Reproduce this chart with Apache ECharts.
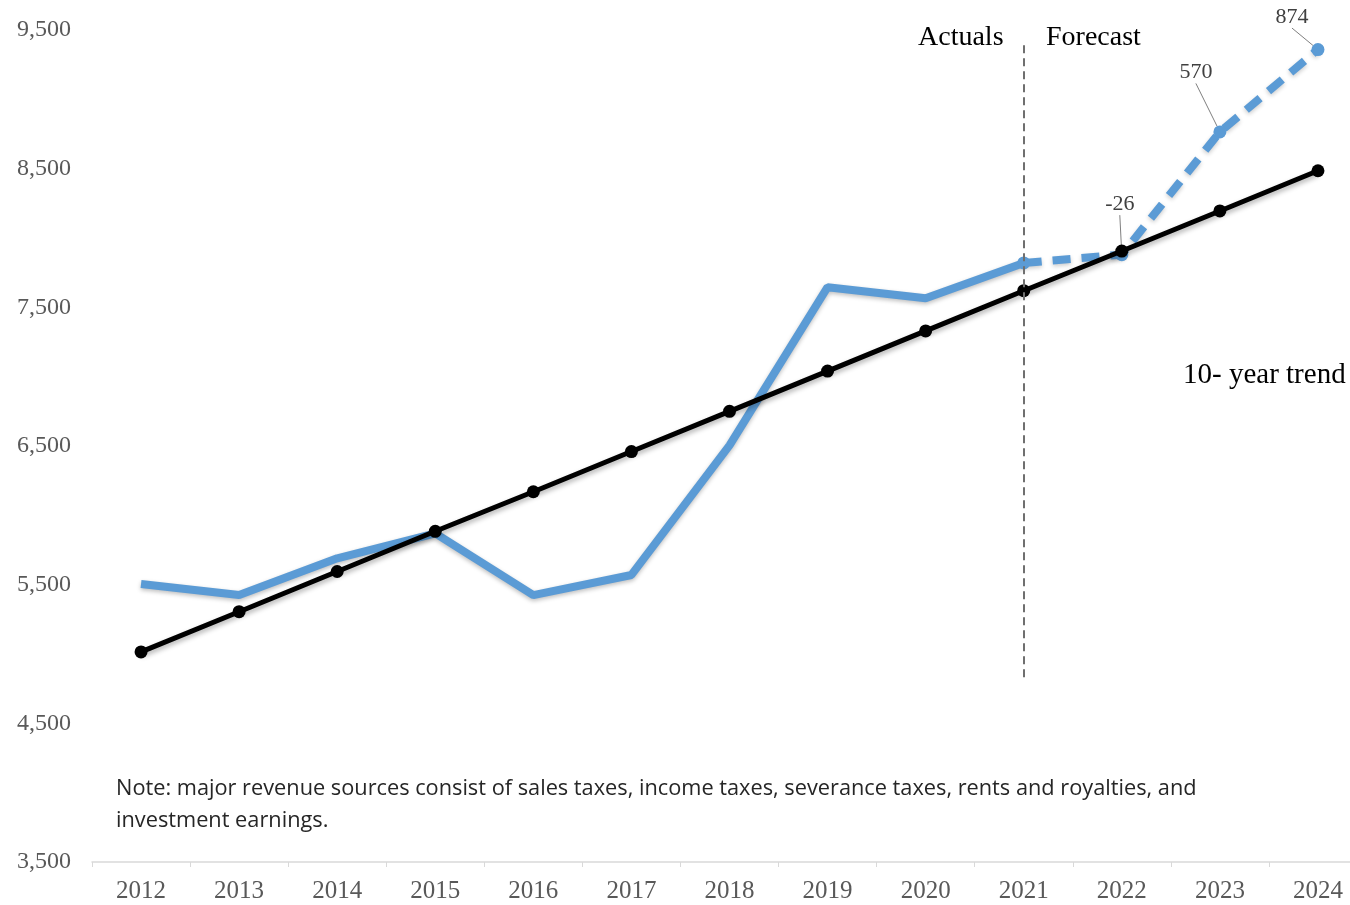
<!DOCTYPE html>
<html>
<head>
<meta charset="utf-8">
<title>Major revenue sources: actuals, forecast and 10-year trend</title>
<script src="https://cdn.jsdelivr.net/npm/echarts@6/dist/echarts.min.js"></script>
<style>
  html, body { margin: 0; padding: 0; background: #ffffff; overflow: hidden; }
  /* canvas is a little wider than the page so the last year band runs off the right edge */
  #chart { width: 1367px; height: 905px; }
</style>
</head>
<body>
<div id="chart"></div>
<script>
// Fiscal years on the category axis
const years = ['2012','2013','2014','2015','2016','2017','2018','2019','2020','2021','2022','2023','2024'];

// Recorded revenue, 2012-2021 (millions)
const actuals = [5505, 5425, 5690, 5870, 5425, 5570, 6505, 7645, 7565, 7820, null, null, null];

// Forecast revenue, starting from the last actual year
const forecast = [null, null, null, null, null, null, null, null, null, 7820, 7880, 8765, 9359];

// 10-year linear trend
const trend = [5015, 5305, 5595, 5885, 6170, 6460, 6750, 7040, 7330, 7620, 7906, 8195, 8485];

// Forecast minus trend, labelled on the forecast points
const forecastGap = [null, null, null, null, null, null, null, null, null, null, -26, 570, 874];

// Value axis ticks
const yMin = 3500, yMax = 9500, yStep = 1000;

const noteLine1 = 'Note: major revenue sources consist of sales taxes, income taxes, severance taxes, rents and royalties, and';
const noteLine2 = 'investment earnings.';

const BLUE = '#5B9BD5';
const SERIF = '"Liberation Serif", "DejaVu Serif", serif';
const SANS = '"Open Sans", "Noto Sans", sans-serif';

// offsets of the gap labels from their default spot above the point (dx, dy)
const gapLabelShift = { 10: [-2, -33], 11: [-24, -42], 12: [-26, -15] };

const chart = echarts.init(document.getElementById('chart'));

chart.setOption({
  animation: false,
  backgroundColor: '#ffffff',
  grid: { left: 92, top: 30, right: 0, bottom: 43, containLabel: false },
  xAxis: {
    type: 'category',
    data: years,
    boundaryGap: true,
    axisLine: { show: true, lineStyle: { color: '#d9d9d9', width: 1.5 } },
    axisTick: { show: true, length: 5, lineStyle: { color: '#d9d9d9' } },
    axisLabel: { color: '#595959', fontFamily: SERIF, fontSize: 25, margin: 17 },
    splitLine: { show: false }
  },
  yAxis: {
    type: 'value',
    min: yMin,
    max: yMax,
    interval: yStep,
    axisLine: { show: false },
    axisTick: { show: false },
    splitLine: { show: false },
    axisLabel: {
      color: '#595959',
      fontFamily: SERIF,
      fontSize: 24,
      margin: 21,
      formatter: v => v.toLocaleString('en-US')
    }
  },
  series: [
    {
      name: 'Actuals',
      type: 'line',
      data: actuals,
      showSymbol: false,
      symbol: 'none',
      z: 2,
      lineStyle: {
        color: BLUE, width: 8,
        shadowColor: 'rgba(0,0,0,0.25)', shadowBlur: 4, shadowOffsetY: 2
      }
    },
    {
      name: 'Forecast',
      type: 'line',
      data: forecast,
      symbol: 'circle',
      symbolSize: 13,
      showSymbol: true,
      z: 2,
      itemStyle: { color: BLUE },
      lineStyle: {
        color: BLUE, width: 8, type: [18, 11],
        shadowColor: 'rgba(0,0,0,0.2)', shadowBlur: 4, shadowOffsetY: 2
      },
      label: {
        show: true,
        position: 'top',
        distance: 0,
        color: '#404040',
        fontFamily: SERIF,
        fontSize: 22,
        formatter: p => (forecastGap[p.dataIndex] == null ? '' : String(forecastGap[p.dataIndex]))
      },
      labelLayout: function (p) {
        const s = gapLabelShift[p.dataIndex];
        return s ? { dx: s[0], dy: s[1] } : {};
      },
      labelLine: { show: true, lineStyle: { color: '#7f7f7f', width: 1 } }
    },
    {
      name: '10- year trend',
      type: 'line',
      data: trend,
      symbol: 'circle',
      symbolSize: 13,
      z: 3,
      itemStyle: { color: '#000000' },
      lineStyle: {
        color: '#000000', width: 5,
        shadowColor: 'rgba(0,0,0,0.3)', shadowBlur: 5, shadowOffsetY: 3
      },
      markLine: {
        silent: true,
        symbol: ['none', 'none'],
        label: { show: false },
        lineStyle: { color: '#6f6f6f', width: 2, type: [8, 5] },
        data: [[{ xAxis: '2021', yAxis: 9390 }, { xAxis: '2021', yAxis: 4800 }]]
      }
    }
  ],
  graphic: [
    {
      type: 'text', left: 918, top: 24,
      style: { text: 'Actuals', fontFamily: SERIF, fontSize: 28, fill: '#000000' }
    },
    {
      type: 'text', left: 1046, top: 24,
      style: { text: 'Forecast', fontFamily: SERIF, fontSize: 28, fill: '#000000' }
    },
    {
      type: 'text', left: 1183, top: 361,
      style: { text: '10- year trend', fontFamily: SERIF, fontSize: 29, fill: '#000000' }
    },
    {
      type: 'text', left: 116, top: 778,
      style: { text: noteLine1, fontFamily: SANS, fontSize: 21.75, fill: '#262626' }
    },
    {
      type: 'text', left: 116, top: 810,
      style: { text: noteLine2, fontFamily: SANS, fontSize: 21.75, fill: '#262626' }
    }
  ]
});
</script>
</body>
</html>
